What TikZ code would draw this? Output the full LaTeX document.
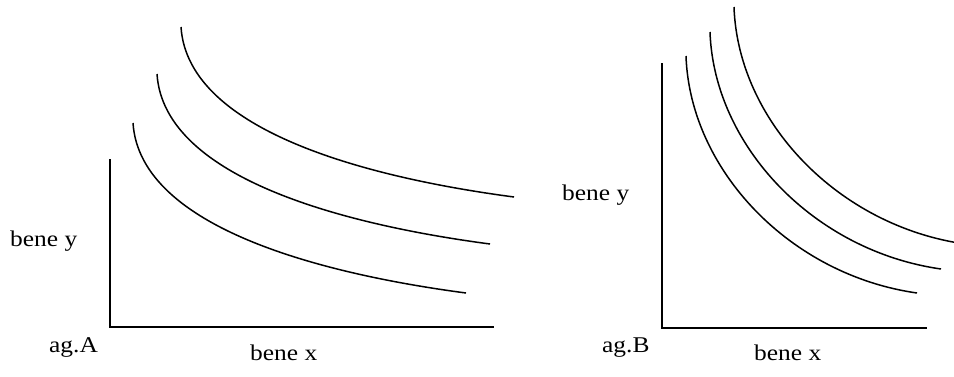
\documentclass[tikz,border=0pt]{standalone}
\usepackage{fontspec}
\setmainfont{Liberation Serif}
\begin{document}
\begin{tikzpicture}[x=1pt,y=-1pt,
  axis/.style={line width=1.9pt},
  curve/.style={line width=1.5pt},
  lbl/.style={anchor=base west,inner sep=0pt,font=\fontsize{22.5}{24}\selectfont}]
\path[use as bounding box] (0,0) rectangle (954,376);
\clip (0,0) rectangle (954,376);
% left panel axes
\coordinate (LT) at (110,159);
\coordinate (LO) at (110,327);
\coordinate (LR) at (494,327);
\draw[axis] (LT) -- (LO) -- (LR);
% left curves
\foreach \dx/\dy [count=\i] in {0/0, 24/-49, 48/-96}{
  \begin{scope}[shift={(\dx,\dy)}]
    \coordinate (La\i) at (133,123);
    \coordinate (Lb\i) at (466,293);
    \draw[curve] (La\i) .. controls (140,230) and (330,275) .. (Lb\i);
  \end{scope}
}
% right panel axes
\coordinate (RT) at (662,63);
\coordinate (RO) at (662,328);
\coordinate (RR) at (927,328);
\draw[axis] (RT) -- (RO) -- (RR);
% right curves
\foreach \dx/\dy [count=\i] in {0/0, 24/-24, 48/-49}{
  \begin{scope}[shift={(\dx,\dy)}]
    \coordinate (Ra\i) at (686,56);
    \coordinate (Rb\i) at (917,293);
    \draw[curve] (Ra\i) .. controls (690,170) and (790,275) .. (Rb\i);
  \end{scope}
}
% labels
\node[lbl] (ly) at (10,246) {\scalebox{1.13}[1]{bene y}};
\node[lbl] (la) at (49,352) {\scalebox{1.13}[1]{ag.A}};
\node[lbl] (lx) at (250,360) {\scalebox{1.13}[1]{bene x}};
\node[lbl] (ry) at (562,200) {\scalebox{1.13}[1]{bene y}};
\node[lbl] (rb) at (602,352) {\scalebox{1.13}[1]{ag.B}};
\node[lbl] (rx) at (754,360) {\scalebox{1.13}[1]{bene x}};
\end{tikzpicture}
\end{document}
